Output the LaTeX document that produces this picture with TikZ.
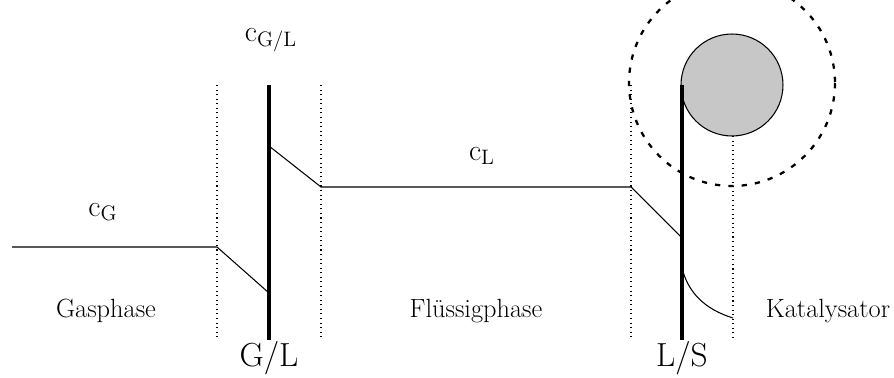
\documentclass[tikz,border=0pt]{standalone}
\begin{document}
\begin{tikzpicture}[x=0.02cm, y=-0.02cm,
    every node/.style={inner sep=1pt, font=\fontsize{15}{18}\selectfont},
    conc/.style={font=\fontsize{17}{20}\selectfont},
    profile/.style={line width=0.6pt},
    interface/.style={line width=2.4pt},
    film/.style={dotted, line width=0.6pt},
    shell/.style={dash pattern=on 3pt off 4.6pt, line width=1.3pt}]
        \useasboundingbox (0,0) rectangle (894,378);
        \clip (0,0) rectangle (894,378);

        % film boundaries
        \draw[film] (217,85) -- (217,338);
        \draw[film] (321,85) -- (321,338);
        \draw[film] (631,85) -- (631,338);
        \draw[film] (733,136) -- (733,338);

        % catalyst particle
        \node[circle, draw, fill=black!22, line width=0.6pt, minimum size=2.04cm, inner sep=0pt] (kat) at (732,85) {};
        \draw[shell] (732,83) circle (103);

        % interfaces
        \draw[interface] (269,85) -- (269,340);
        \draw[interface] (682,85) -- (682,340);

        % concentration profile
        \draw[profile] (12,247) -- (217,247) -- (269,293);
        \draw[profile] (269,146) -- (321,187) -- (631,187) -- (682,238);
        \draw[profile] (682,268) .. controls (688,292) and (704,309) .. (733,318);

        % labels
        \node[conc] (cG) at (103,212) {c\textsubscript{G}};
        \node[conc] (cGL) at (271,40) {c\textsubscript{G/L}};
        \node[conc] (cL) at (482,156) {c\textsubscript{L}};
        \node (gas) at (106,311) {Gasphase};
        \node (liq) at (476,311) {Flüssigphase};
        \node (cat) at (828,311) {Katalysator};
        \node[font=\fontsize{19}{22}\selectfont] (GL) at (269,358) {G/L};
        \node[font=\fontsize{19}{22}\selectfont] (LS) at (682,358) {L/S};
\end{tikzpicture}
\end{document}
